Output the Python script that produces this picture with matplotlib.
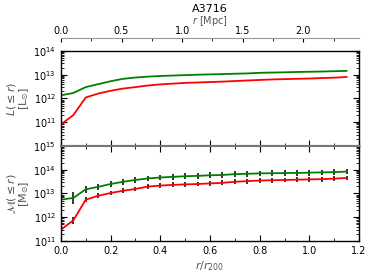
import matplotlib
matplotlib.use("Agg")
import matplotlib.pyplot as plt
import numpy as np
from matplotlib.ticker import LogLocator, MultipleLocator, NullFormatter

r_r200 = [0.0, 0.05, 0.1, 0.15, 0.2, 0.25, 0.3, 0.35, 0.4, 0.45, 0.5, 0.55,
          0.6, 0.65, 0.7, 0.75, 0.8, 0.85, 0.9, 0.95, 1.0, 1.05, 1.1, 1.15]
r200_mpc = 2.05

L_green = [1.35e12, 1.7e12, 3.0e12, 4.0e12, 5.3e12, 6.7e12, 7.6e12, 8.3e12, 8.8e12, 9.2e12,
           9.6e12, 1.0e13, 1.03e13, 1.06e13, 1.1e13, 1.13e13, 1.2e13, 1.23e13, 1.26e13,
           1.3e13, 1.33e13, 1.36e13, 1.4e13, 1.45e13]
L_red = [8e10, 2e11, 1.1e12, 1.6e12, 2.1e12, 2.6e12, 3.0e12, 3.5e12, 3.9e12, 4.2e12,
         4.5e12, 4.7e12, 4.9e12, 5.1e12, 5.4e12, 5.7e12, 6.0e12, 6.3e12, 6.5e12, 6.7e12,
         6.9e12, 7.2e12, 7.5e12, 8.0e12]

M_green = [5.5e12, 6.5e12, 1.5e13, 1.9e13, 2.5e13, 3.1e13, 3.7e13, 4.3e13, 4.7e13, 5.0e13,
           5.3e13, 5.5e13, 5.8e13, 6.0e13, 6.5e13, 6.7e13, 7.0e13, 7.1e13, 7.2e13, 7.3e13,
           7.5e13, 7.7e13, 7.9e13, 8.3e13]
M_red = [3e11, 7.5e11, 5.5e12, 8e12, 1.05e13, 1.3e13, 1.55e13, 1.95e13, 2.15e13, 2.3e13,
         2.4e13, 2.5e13, 2.65e13, 2.8e13, 3.1e13, 3.3e13, 3.5e13, 3.6e13, 3.7e13, 3.8e13,
         3.9e13, 4.0e13, 4.2e13, 4.5e13]
# error bar half-widths in dex
M_green_err = [0.0, 0.25, 0.15, 0.13, 0.13, 0.12, 0.12, 0.12, 0.12, 0.12, 0.12, 0.12,
               0.12, 0.12, 0.12, 0.12, 0.12, 0.12, 0.12, 0.12, 0.12, 0.12, 0.12, 0.12]
M_red_err = [0.0, 0.15, 0.1, 0.1, 0.1, 0.1, 0.1, 0.1, 0.1, 0.1, 0.1, 0.1,
             0.1, 0.1, 0.1, 0.1, 0.1, 0.1, 0.1, 0.1, 0.1, 0.1, 0.1, 0.1]

fig = plt.figure(figsize=(3.74, 2.8), dpi=100)
ax1 = fig.add_axes([0.163, 0.479, 0.797, 0.339])
ax2 = fig.add_axes([0.163, 0.139, 0.797, 0.340], sharex=ax1)

x = np.array(r_r200)
ax1.plot(x, L_green, color="green", lw=1.3)
ax1.plot(x, L_red, color="red", lw=1.3)

for vals, errs, col in [(M_green, M_green_err, "green"), (M_red, M_red_err, "red")]:
    v = np.array(vals)
    d = np.array(errs)
    lo = v - v / 10 ** d
    hi = v * 10 ** d - v
    ax2.errorbar(x, v, yerr=[lo, hi], color=col, lw=1.3, ecolor="black",
                 elinewidth=1.1, capsize=0)

ax1.set_yscale("log")
ax2.set_yscale("log")
ax1.set_ylim(1e10, 1e14)
ax2.set_ylim(1e11, 1e15)
ax1.set_xlim(0, 1.2)

for ax in (ax1, ax2):
    ax.tick_params(which="both", direction="in", top=True, right=True, labelsize=7,
                   color="black")
    ax.tick_params(which="major", length=4, width=0.8)
    ax.tick_params(which="minor", length=2, width=0.6)
    ax.yaxis.set_major_locator(LogLocator(base=10, numticks=10))
    ax.yaxis.set_minor_locator(LogLocator(base=10, subs=np.arange(2, 10), numticks=10))
    ax.yaxis.set_minor_formatter(NullFormatter())
    ax.xaxis.set_major_locator(MultipleLocator(0.2))
    ax.xaxis.set_minor_locator(MultipleLocator(0.1))
    for s in ax.spines.values():
        s.set_linewidth(1.0)

ax1.tick_params(labelbottom=False)
ax1.set_yticks([1e11, 1e12, 1e13, 1e14])
ax1.spines["bottom"].set_color("#777777")
ax2.spines["top"].set_color("#777777")
ax1.spines["bottom"].set_linewidth(1.5)
ax2.spines["top"].set_linewidth(1.5)

ax1.set_ylabel("$L(\\leq r)$\n$[\\mathrm{L}_{\\odot}]$", fontsize=8, color="#555555",
               labelpad=2, linespacing=0.9)
ax2.set_ylabel("$\\mathcal{M}(\\leq r)$\n$[\\mathrm{M}_{\\odot}]$", fontsize=8, color="#555555",
               labelpad=2, linespacing=0.9)
ax2.set_xlabel("$r/r_{200}$", fontsize=8, color="#555555", labelpad=2)

# top axis in Mpc
axt = ax1.twiny()
axt.set_xlim(0, 1.2 * r200_mpc)
axt.spines["top"].set_position(("outward", 9))
axt.spines["top"].set_color("#999999")
for k in ("left", "right", "bottom"):
    axt.spines[k].set_visible(False)
axt.xaxis.set_major_locator(MultipleLocator(0.5))
axt.xaxis.set_minor_locator(MultipleLocator(0.25))
axt.tick_params(which="both", direction="in", labelsize=7, pad=2)
axt.tick_params(which="major", length=3, width=0.8)
axt.tick_params(which="minor", length=2, width=0.6)
axt.set_xlabel("$r$ [Mpc]", fontsize=7, color="#555555", labelpad=1)
axt.set_title("A3716", fontsize=8, pad=1)

fig.savefig("out.png", dpi=100)
